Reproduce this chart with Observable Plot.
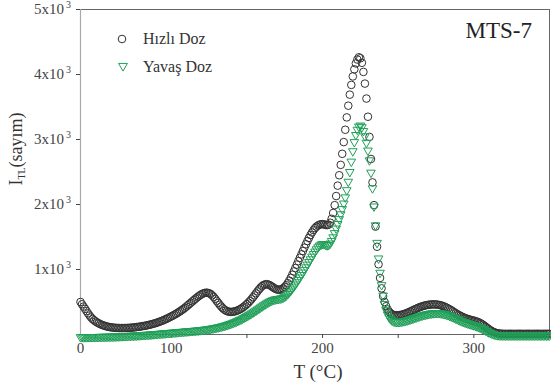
<!DOCTYPE html>
<html><head><meta charset="utf-8">
<script src="https://cdn.jsdelivr.net/npm/d3@7"></script>
<script src="https://cdn.jsdelivr.net/npm/@observablehq/plot@0.6"></script>
<style>body{margin:0;background:#fff}svg{font-family:"Liberation Serif",serif}</style>
</head><body><div id="chart"></div><script>
// Temperature of first reading and step (°C)
const tStart = 40, tStep = 1;
// Hızlı Doz (counts), T = 40..350
const hizli = [
500,465,430,395,360,325,292,262,238,218,
200,185,172,160,150,141,133,126,120,115,
111,108,105,103,101,100,99,99,99,100,
100,101,102,104,106,108,111,114,117,120,
124,128,132,136,141,146,152,158,164,171,
178,186,194,203,212,222,232,243,254,266,
278,290,303,316,330,345,360,376,393,411,
430,450,470,490,510,530,550,569,587,604,
619,631,639,643,642,635,622,603,578,549,
518,488,458,430,405,385,369,358,351,348,
348,351,356,363,372,383,396,411,428,447,
468,491,516,543,572,602,633,664,694,721,
744,761,771,774,770,760,746,730,714,701,
692,688,690,698,712,732,758,790,828,872,
920,970,1022,1075,1128,1180,1232,1284,1336,1388,
1438,1486,1530,1570,1606,1636,1660,1678,1690,1696,
1698,1694,1686,1682,1690,1720,1780,1870,1990,2130,
2290,2450,2610,2780,2960,3150,3340,3520,3690,3840,
3970,4080,4170,4230,4265,4250,4180,4040,3860,3630,
3350,3040,2700,2340,1990,1660,1350,1080,870,710,
590,500,435,385,350,325,310,300,296,295,
296,299,303,309,316,324,333,343,354,365,
376,387,398,408,418,427,435,442,448,453,
457,460,462,463,463,462,459,455,450,443,
434,424,413,400,387,373,358,343,328,313,
300,288,276,265,255,246,238,231,225,219,
213,206,198,189,178,165,150,133,115,97,
80,64,50,38,29,22,17,14,12,11,
10,10,9,10,11,10,10,9,10,10,
11,10,10,9,10,10,11,10,9,10,
10,10,11,10,9,10,10,10,11,10,
10];
// Yavaş Doz (counts), T = 40..350
const yavas = [
-40,-40,-41,-41,-41,-40,-40,-40,-39,-39,
-38,-38,-37,-37,-36,-36,-35,-35,-34,-33,
-33,-32,-31,-30,-29,-28,-27,-26,-25,-24,
-23,-22,-21,-20,-19,-17,-16,-15,-13,-12,
-10,-9,-7,-6,-4,-3,-1,1,3,5,
7,9,11,13,15,17,19,21,23,25,
27,29,31,33,35,37,39,41,43,45,
47,49,51,53,55,57,59,61,63,66,
68,71,74,77,80,84,88,92,96,100,
105,110,115,121,127,133,140,147,155,163,
171,180,189,199,209,220,231,243,255,268,
281,295,309,323,338,353,368,384,400,416,
432,448,463,478,492,505,517,527,535,541,
545,548,552,558,568,582,600,622,648,676,
706,737,770,804,840,877,915,954,994,1034,
1075,1116,1157,1198,1238,1276,1311,1342,1367,1384,
1392,1390,1380,1372,1378,1400,1440,1495,1560,1630,
1700,1775,1850,1930,2015,2110,2220,2350,2500,2660,
2820,2960,3070,3150,3200,3215,3190,3130,3050,2950,
2830,2680,2490,2250,1970,1680,1410,1170,950,760,
600,470,375,310,265,235,215,202,195,192,
192,194,197,201,206,212,218,225,232,240,
248,256,264,272,280,287,294,300,306,311,
316,320,324,327,329,330,330,329,327,323,
318,312,305,297,288,278,268,257,246,235,
224,214,204,195,186,178,170,163,156,149,
142,134,126,117,107,96,84,71,58,45,
33,22,12,4,-3,-8,-11,-13,-14,-15,
-15,-15,-15,-15,-15,-15,-15,-15,-15,-15,
-15,-15,-15,-15,-15,-15,-15,-15,-15,-15,
-15,-15,-15,-15,-15,-15,-15,-15,-15,-15,
-15];
const seriesNames = ["Hızlı Doz", "Yavaş Doz"];
const xDomain = [40, 350];
const xTicks = [50, 100, 150, 200, 250, 300, 350];
const xTickLabels = [100, 200, 300];
const xOriginLabel = "0";
const yDomain = [0, 5000];
const yTicks = [1000, 2000, 3000, 4000, 5000];
const yTickMantissa = ["1", "2", "3", "4", "5"];
const chartLabel = "MTS-7";

const hzData = hizli.map((v, i) => ({T: tStart + i * tStep, I: v}));
const yvData = yavas.map((v, i) => ({T: tStart + i * tStep, I: v}));

const triDown = {
  draw(ctx, size) {
    const y = Math.sqrt(size / (3 * Math.sqrt(3)));
    const x = Math.sqrt(3) * y;
    ctx.moveTo(0, 2 * y); ctx.lineTo(-x, -y); ctx.lineTo(x, -y); ctx.closePath();
  }
};
const black = "#333333", green = "#20a058";

const chart = Plot.plot({
  width: 551, height: 387,
  marginLeft: 80, marginRight: 2, marginTop: 9, marginBottom: 53,
  style: {fontFamily: "Liberation Serif, serif", fontSize: "15px", color: "#444", background: "white"},
  x: {domain: xDomain},
  y: {domain: yDomain},
  marks: [
    Plot.frame({stroke: "#666"}),
    Plot.ruleX([xDomain[0]], {stroke: "#aaa", strokeWidth: 1.2}),
    Plot.axisX({ticks: xTicks, tickSize: 4, tickPadding: 4, label: null, fontSize: 15,
      tickFormat: d => xTickLabels.includes(d) ? String(d) : ""}),
    Plot.axisX({ticks: [xDomain[0]], tickSize: 0, tickPadding: 8, label: null, fontSize: 15,
      tickFormat: () => xOriginLabel}),
    Plot.axisY({ticks: yTicks, tickSize: 4, label: null, tickFormat: () => ""}),
    Plot.dot(hzData, {x: "T", y: "I", r: 3.8, stroke: black, strokeWidth: 1, fill: "none"}),
    Plot.dot(yvData, {x: "T", y: "I", r: 3.2, symbol: triDown, stroke: green, strokeWidth: 1, fill: "none"})
  ]
});
document.getElementById("chart").appendChild(chart);

const svg = d3.select(chart);
const ys = chart.scale("y");
// y tick labels  "Nx10^3"
yTicks.forEach((v, i) => {
  const t = svg.append("text").attr("x", 71).attr("y", ys.apply(v) + 5)
    .attr("text-anchor", "end").attr("font-size", 15).attr("fill", "#444");
  t.append("tspan").text(yTickMantissa[i] + "x10");
  t.append("tspan").attr("dy", -6).attr("font-size", 10).attr("dx", 2).text("3");
});
// y title
const yt = svg.append("text").attr("transform", "translate(22,149) rotate(-90)")
  .attr("text-anchor", "middle").attr("font-size", 18).attr("fill", "#333");
yt.append("tspan").text("I");
yt.append("tspan").attr("font-size", 10).attr("dy", 3).text("TL");
yt.append("tspan").attr("dy", -3).text("(sayım)");
// x title
svg.append("text").attr("x", 318).attr("y", 378).attr("text-anchor", "middle")
  .attr("font-size", 19).attr("fill", "#333").text("T (°C)");
// chart label
svg.append("text").attr("x", 532).attr("y", 38).attr("text-anchor", "end")
  .attr("font-size", 23).attr("fill", "#222").text(chartLabel);
// legend
svg.append("circle").attr("cx", 122).attr("cy", 39).attr("r", 3.8)
  .attr("fill", "none").attr("stroke", black).attr("stroke-width", 1);
svg.append("path").attr("transform", "translate(123,66)")
  .attr("d", d3.symbol(triDown, 3.3 * 3.3 * Math.PI)()).attr("fill", "none")
  .attr("stroke", green).attr("stroke-width", 1);
svg.append("text").attr("x", 143).attr("y", 44).attr("text-anchor", "start")
  .attr("font-size", 16).attr("fill", "#333").text(seriesNames[0]);
svg.append("text").attr("x", 143).attr("y", 72).attr("text-anchor", "start")
  .attr("font-size", 16).attr("fill", "#333").text(seriesNames[1]);
</script></body></html>
